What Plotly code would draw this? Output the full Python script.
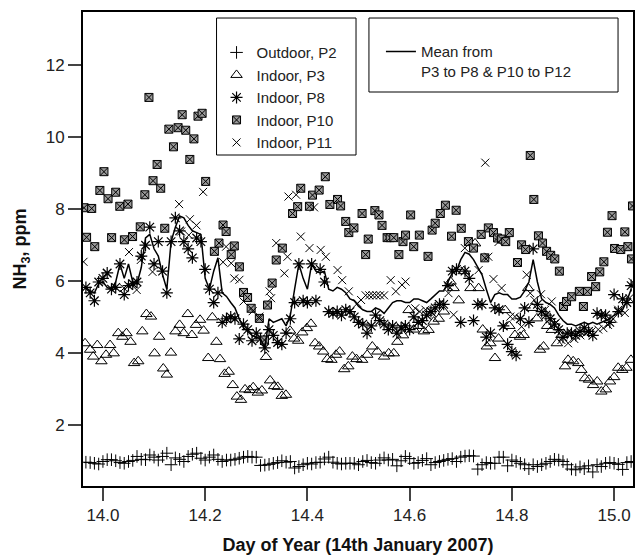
import plotly.graph_objects as go

# Regular 12-minute time axis (day of year) for P2, P8 and the mean
t_grid = [round(14 + (k - 4) / 120, 5) for k in range(129)]

p2_vals = [0.98,0.97,0.95,0.93,1.0,1.05,1.05,1.02,0.97,0.95,
           1.0,1.03,1.14,1.06,1.05,1.18,1.12,1.04,1.14,1.23,
           0.91,1.1,1.06,1.0,1.14,1.2,1.23,1.09,1.04,1.12,
           1.18,1.06,1.0,1.04,1.04,1.06,1.09,1.12,1.14,1.12,
           1.12,0.89,0.9,0.92,0.95,0.97,1.02,0.98,1.0,0.82,
           0.86,0.91,0.95,0.93,0.97,0.98,1.07,1.12,0.98,0.95,
           0.93,0.95,0.95,0.95,0.91,1.0,1.03,0.97,0.95,1.04,
           1.1,1.04,1.06,0.88,1.02,1.14,1.08,0.95,0.97,1.03,
           1.08,0.91,0.97,1.0,1.03,1.06,1.08,1.0,1.12,1.15,
           1.16,1.15,0.79,0.91,0.97,0.95,0.95,1.12,1.12,0.88,
           1.04,1.0,0.95,0.91,0.8,0.91,0.86,0.91,0.95,1.0,
           1.06,1.04,1.0,0.91,0.79,0.77,0.85,0.8,0.88,0.71,
           0.91,0.86,0.95,0.97,0.95,0.92,0.78,0.97,1.0]

p8_vals = [5.83,5.68,5.46,5.98,6.08,6.23,5.78,5.83,6.48,5.63,
           5.88,5.93,5.98,6.7,7.0,7.5,6.48,7.1,6.28,5.68,
           7.1,7.76,7.4,7.1,6.9,6.65,7.2,7.1,6.33,5.78,
           5.41,5.68,4.86,4.96,5.01,4.96,4.4,4.81,4.66,4.35,
           4.56,4.4,4.15,4.66,4.5,4.3,4.25,4.56,4.96,5.41,
           6.48,5.46,5.41,6.48,5.46,6.33,5.98,5.16,5.11,5.16,
           5.06,5.21,5.16,5.01,4.86,4.81,4.56,4.76,5.06,4.91,
           4.81,4.66,4.76,4.56,4.71,4.76,4.66,5.01,4.86,4.91,
           5.06,5.16,5.26,5.36,5.36,5.88,6.28,6.33,4.86,6.28,
           6.08,4.91,5.36,5.36,4.45,4.56,5.26,5.21,4.76,4.25,
           4.05,3.95,4.96,5.26,4.86,6.9,5.36,5.16,5.06,4.96,
           4.81,4.66,4.45,4.56,4.56,4.5,4.61,4.71,4.61,4.5,
           5.11,5.06,5.06,4.86,5.63,5.16,5.51,5.41,5.88]

mean_vals = [5.83,5.73,5.68,5.93,5.98,5.83,5.78,5.98,6.48,6.08,
             6.48,5.98,5.93,6.38,7.2,7.3,6.9,6.7,6.18,5.78,
             7.1,7.5,7.81,7.76,7.55,7.4,7.35,7.3,6.08,5.78,
             6.28,6.65,5.68,5.58,5.41,5.26,4.96,4.71,4.61,4.5,
             4.45,4.4,4.15,4.96,4.86,4.91,4.96,4.76,5.06,5.78,
             6.48,6.08,5.78,6.48,6.28,6.23,6.28,5.78,5.73,5.83,
             5.78,5.68,5.51,5.46,5.31,5.21,5.16,5.16,5.26,5.21,
             5.11,5.26,5.41,5.46,5.46,5.41,5.41,5.51,5.51,5.46,
             5.41,5.51,5.63,5.73,5.73,5.98,6.23,6.28,6.6,6.8,
             6.75,6.6,6.38,6.18,5.78,5.41,5.63,5.68,5.63,5.63,
             5.51,5.51,5.56,5.73,5.98,6.6,5.98,5.51,5.41,5.36,
             5.26,5.06,4.91,4.81,4.81,4.76,4.81,4.86,4.81,4.86,
             4.81,4.86,4.91,4.96,5.06,5.11,5.21,5.46,5.78]

p3_t = [13.965,13.975,13.981,13.989,13.997,14.006,14.014,14.021,14.030,14.038,
        14.046,14.054,14.061,14.069,14.077,14.085,14.094,14.101,14.110,14.118,
        14.125,14.133,14.142,14.150,14.158,14.166,14.174,14.182,14.190,14.197,
        14.206,14.214,14.222,14.229,14.238,14.246,14.254,14.262,14.270,14.278,
        14.287,14.294,14.303,14.311,14.319,14.327,14.335,14.342,14.350,14.358,
        14.366,14.374,14.382,14.390,14.399,14.407,14.415,14.423,14.431,14.439,
        14.447,14.456,14.463,14.472,14.480,14.488,14.496,14.507,14.517,14.527,
        14.537,14.550,14.559,14.569,14.576,14.587,14.598,14.608,14.618,14.628,
        14.637,14.647,14.657,14.667,14.680,14.686,14.696,14.706,14.719,14.728,
        14.735,14.743,14.751,14.758,14.767,14.774,14.787,14.795,14.806,14.816,
        14.823,14.832,14.840,14.849,14.855,14.862,14.869,14.878,14.888,14.897,
        14.904,14.910,14.920,14.930,14.936,14.943,14.951,14.959,14.967,14.975,
        14.984,14.992,15.000,15.008,15.016,15.024,15.033]
p3_vals = [4.28,4.1,3.91,4.23,3.78,3.96,4.23,4.0,4.56,4.46,
           4.56,4.32,3.73,3.78,4.61,5.09,5.02,4.0,4.46,3.58,
           3.41,4.02,4.61,4.79,4.56,5.09,4.51,4.79,4.93,4.63,
           3.87,5.0,4.32,3.84,3.43,3.49,3.12,2.8,2.71,3.0,
           2.98,3.06,2.91,2.97,3.9,3.25,3.09,3.07,2.82,2.85,
           4.63,4.41,4.35,4.58,4.7,4.82,4.28,4.19,4.05,3.84,
           3.82,3.96,4.05,3.56,3.64,3.91,3.84,3.82,3.96,4.19,
           4.05,3.91,4.0,4.0,4.32,4.5,5.2,4.66,4.76,4.61,
           4.65,4.88,4.96,5.16,5.99,5.81,5.47,6.28,5.81,7.05,
           5.81,4.66,4.19,4.28,3.87,4.41,5.2,4.76,4.51,4.46,
           4.51,5.81,5.26,4.97,4.1,4.19,4.76,4.65,4.28,4.51,
           3.64,3.82,3.78,3.73,3.54,3.31,3.27,3.12,3.22,2.94,
           3.0,3.22,3.34,3.6,3.54,3.6,3.82]

p10_t = [13.963,13.968,13.978,13.984,13.994,14.002,14.010,14.017,14.025,14.033,
         14.042,14.049,14.058,14.073,14.082,14.090,14.098,14.106,14.113,14.121,
         14.129,14.138,14.147,14.155,14.162,14.170,14.178,14.186,14.194,14.201,
         14.218,14.227,14.235,14.241,14.251,14.257,14.267,14.275,14.283,14.290,
         14.306,14.316,14.322,14.331,14.339,14.351,14.371,14.381,14.387,14.404,
         14.410,14.423,14.435,14.444,14.459,14.465,14.475,14.481,14.491,14.507,
         14.514,14.519,14.532,14.540,14.546,14.556,14.562,14.569,14.579,14.587,
         14.592,14.602,14.608,14.619,14.636,14.644,14.650,14.660,14.670,14.682,
         14.691,14.701,14.715,14.725,14.740,14.747,14.754,14.764,14.772,14.780,
         14.788,14.795,14.811,14.819,14.827,14.836,14.843,14.852,14.860,14.868,
         14.876,14.884,14.893,14.901,14.907,14.917,14.932,14.940,14.948,14.956,
         14.964,14.972,14.980,14.987,14.996,15.001,15.013,15.021,15.027,15.034,
         15.036]
p10_vals = [8.04,7.22,8.02,6.96,8.52,9.04,8.29,7.21,8.47,8.08,
            7.15,8.14,7.24,7.51,8.4,11.1,8.79,9.24,8.58,7.47,
            10.22,9.73,10.26,10.62,10.19,9.38,9.95,10.58,10.66,8.77,
            6.83,7.06,7.56,7.38,6.74,6.98,6.4,5.69,5.55,5.25,
            4.97,4.37,5.34,5.95,6.59,6.92,7.88,8.07,8.58,8.08,
            8.39,8.53,8.9,8.13,8.27,8.09,7.66,7.35,7.48,7.88,
            6.74,7.17,7.96,7.84,7.55,7.21,7.21,7.21,6.74,7.1,
            7.28,7.84,6.96,7.28,6.69,7.42,7.61,7.88,8.11,7.25,
            7.97,7.47,7.1,6.92,7.3,6.65,7.48,7.35,7.2,7.17,
            7.1,7.35,6.52,7.01,6.88,9.49,8.27,7.26,7.06,6.83,
            6.72,6.62,6.28,5.3,5.44,5.57,5.72,5.3,5.72,6.13,
            5.85,6.26,6.54,7.36,7.82,6.91,6.88,7.37,6.96,6.62,
            8.09]

p11_t = [13.962,14.008,14.041,14.051,14.066,14.074,14.097,14.149,14.153,14.168,
         14.170,14.183,14.196,14.235,14.241,14.251,14.257,14.267,14.275,14.293,
         14.306,14.326,14.329,14.339,14.355,14.361,14.363,14.378,14.387,14.404,
         14.413,14.426,14.436,14.459,14.468,14.481,14.498,14.505,14.514,14.521,
         14.528,14.535,14.542,14.550,14.563,14.573,14.585,14.592,14.611,14.620,
         14.631,14.644,14.657,14.676,14.686,14.708,14.735,14.748,14.754,14.764,
         14.774,14.780,14.797,14.806,14.819,14.829,14.836,14.844,14.857,14.865,
         14.878,14.887,14.897,14.910,14.922,14.934,14.945,14.956,14.969,14.979,
         14.988,14.998,15.008,15.021,15.030,15.036]
p11_vals = [6.54,6.22,5.81,6.81,5.76,6.59,6.26,8.14,7.38,7.28,
            7.72,7.55,8.48,6.53,6.96,6.5,6.08,6.04,5.44,5.17,
            5.02,5.72,5.53,7.06,6.22,6.68,8.35,8.4,7.24,6.92,
            8.05,6.87,6.68,6.31,6.03,5.72,5.39,5.48,5.61,5.61,
            5.61,5.61,5.61,5.61,6.03,5.72,5.9,5.99,5.25,5.16,
            5.21,5.12,5.37,5.67,5.07,6.92,6.31,9.29,6.68,6.06,
            7.09,5.81,5.02,5.02,4.74,6.18,5.67,5.48,5.64,5.21,
            5.44,4.86,4.37,4.28,4.4,4.5,4.56,4.61,4.66,4.7,
            4.79,4.96,5.21,5.12,5.53,5.98]

x_ticks = [14.0, 14.2, 14.4, 14.6, 14.8, 15.0]
y_ticks = [2, 4, 6, 8, 10, 12]

FONT = "Arial, Liberation Sans, sans-serif"

fig = go.Figure()

fig.add_trace(go.Scatter(x=t_grid, y=p2_vals, mode="markers", name="Outdoor, P2",
    marker=dict(symbol="cross-thin-open", size=9, color="black", line=dict(width=1, color="black")),
    legend="legend"))
fig.add_trace(go.Scatter(x=p3_t, y=p3_vals, mode="markers", name="Indoor, P3",
    marker=dict(symbol="triangle-up-open", size=10, color="black", line=dict(width=1, color="black")),
    legend="legend"))
fig.add_trace(go.Scatter(x=t_grid, y=p8_vals, mode="markers", name="Indoor, P8",
    marker=dict(symbol="asterisk-open", size=10, color="black", line=dict(width=1.2, color="black")),
    legend="legend"))
fig.add_trace(go.Scatter(x=p10_t, y=p10_vals, mode="markers", name="Indoor, P10",
    marker=dict(symbol="square-x", size=8, color="#9a9a9a", line=dict(width=1, color="black")),
    legend="legend"))
fig.add_trace(go.Scatter(x=p11_t, y=p11_vals, mode="markers", name="Indoor, P11",
    marker=dict(symbol="x-thin-open", size=8, color="black", line=dict(width=1, color="black")),
    legend="legend"))
fig.add_trace(go.Scatter(x=t_grid, y=mean_vals, mode="lines",
    name="Mean from<br>P3 to P8 & P10 to P12",
    line=dict(color="black", width=1.5), legend="legend2"))

# Legend frames (white boxes with black border), legends drawn inside them
legend_boxes = [dict(x0=0.2428, x1=0.4964, y0=0.6983, y1=0.9873),
                dict(x0=0.5199, x1=0.9728, y0=0.8312, y1=0.9873)]
fig.update_layout(shapes=[dict(type="rect", xref="paper", yref="paper", layer="above",
                               line=dict(color="black", width=1), fillcolor="white", **b)
                          for b in legend_boxes])

fig.update_layout(
    width=636, height=557,
    margin=dict(l=83, r=1, t=12, b=71),
    paper_bgcolor="white", plot_bgcolor="white",
    font=dict(family=FONT, size=17, color="#222"),
    legend=dict(x=0.2428, y=0.949, xanchor="left", yanchor="top",
                borderwidth=0, bgcolor="rgba(0,0,0,0)",
                font=dict(size=15, color="#222"), tracegroupgap=0),
    legend2=dict(x=0.5417, y=0.951, xanchor="left", yanchor="top",
                 borderwidth=0, bgcolor="rgba(0,0,0,0)",
                 font=dict(size=15, color="#222"), valign="top"),
)
fig.update_xaxes(range=[13.961, 15.037], tickvals=x_ticks,
                 ticktext=[f"{v:.1f}" for v in x_ticks],
                 ticks="outside", ticklen=13, tickwidth=1.5, tickcolor="#444",
                 showline=True, mirror=True, linecolor="black", linewidth=2,
                 showgrid=False, zeroline=False,
                 title=dict(text="<b>Day of Year (14th January 2007)</b>",
                            font=dict(size=18, color="#111"), standoff=14))
fig.update_yaxes(range=[0.32, 13.47], tickvals=y_ticks,
                 ticks="outside", ticklen=13, tickwidth=1.5, tickcolor="#444",
                 showline=True, mirror=True, linecolor="black", linewidth=2,
                 showgrid=False, zeroline=False,
                 title=dict(text="<b>NH<sub>3</sub>, ppm</b>",
                            font=dict(size=18, color="#111"), standoff=14))

fig.write_html("out.html")
